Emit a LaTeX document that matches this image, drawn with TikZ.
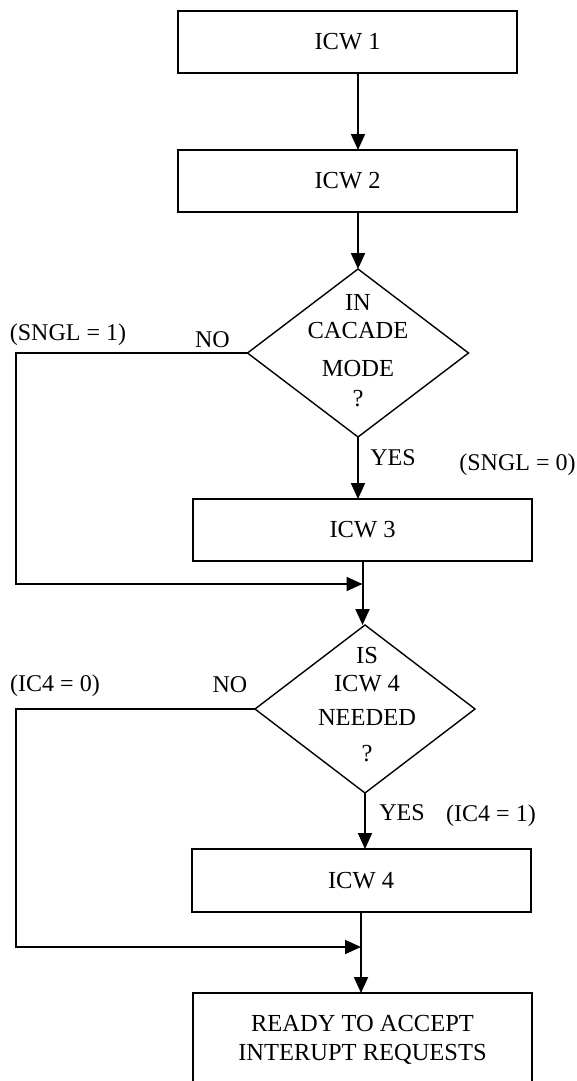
\documentclass[tikz,border=0pt]{standalone}
\usepackage{fontspec}
\setmainfont{Liberation Serif}
\usetikzlibrary{shapes.geometric, arrows.meta, positioning, calc}
\tikzset{
    process/.style={rectangle, draw, line width=2pt, minimum width=339pt, minimum height=62pt, inner sep=0pt, outer sep=0pt, align=center, font=\fontsize{24.5}{29}\selectfont},
    decision/.style={diamond, draw, line width=1.4pt, minimum width=221pt, minimum height=168pt, inner sep=0pt, outer sep=0pt},
    dtext/.style={align=center, inner sep=0pt, font=\fontsize{24.5}{28}\selectfont},
    note/.style={inner sep=0pt, text height=16pt, text depth=0pt, font=\fontsize{24}{28}\selectfont},
    link/.style={line width=2pt},
    arrow/.style={line width=2pt,-{Triangle[length=16pt,width=14pt]}}
}

\begin{document}
\begin{tikzpicture}[node distance=60pt]
    \useasboundingbox (0,0) rectangle (577pt,-1081pt);
    \clip (0,0) rectangle (577pt,-1081pt);
    \coordinate (rail) at (16pt,0);

    \node (icw1) [process] at (347.5pt,-42pt) {ICW 1};
    \node (icw2) [process, below=77pt of icw1] {ICW 2};
    \node (dec1) [decision, below=57pt of icw2, xshift=10.5pt] {};
    \node (dec1txt) [dtext, yshift=2pt] at (dec1) {IN\\CACADE\\[10pt]MODE\\[2pt]?};
    \node (icw3) [process, below=62pt of dec1, xshift=4.5pt] {ICW 3};
    \coordinate (join1) at ([yshift=-23pt]icw3.south);
    \node (dec2) [decision, minimum width=220pt, below=64pt of icw3, xshift=2.5pt] {};
    \node (dec2txt) [dtext, xshift=2pt, yshift=4pt] at (dec2) {IS\\ICW 4\\[6pt]NEEDED\\[8pt]?};
    \node (icw4) [process, minimum height=63pt, below=56pt of dec2, xshift=-4pt] {ICW 4};
    \coordinate (join2) at ([yshift=-35pt]icw4.south);
    \node (ready) [process, minimum height=94pt, below=81pt of icw4, xshift=1.5pt] {READY TO ACCEPT\\INTERUPT REQUESTS};

    % branch labels
    \node (no1) [note] at ([xshift=-35pt,yshift=14pt]dec1.west) {NO};
    \node (sngl1) [note] at ([xshift=-179.5pt,yshift=21pt]dec1.west) {(SNGL = 1)};
    \node (yes1) [note] at ([xshift=35pt,yshift=-20pt]dec1.south) {YES};
    \node (sngl0) [note] at ([xshift=159.5pt,yshift=-25pt]dec1.south) {(SNGL = 0)};
    \node (no2) [note] at ([xshift=-25pt,yshift=25pt]dec2.west) {NO};
    \node (ic4zero) [note] at ([xshift=-200pt,yshift=26pt]dec2.west) {(IC4 = 0)};
    \node (yes2) [note] at ([xshift=37pt,yshift=-19pt]dec2.south) {YES};
    \node (ic4one) [note] at ([xshift=126pt,yshift=-20pt]dec2.south) {(IC4 = 1)};

    \draw [arrow] (icw1.south -| dec1.north) -- (icw2.north -| dec1.north);
    \draw [arrow] (icw2.south -| dec1.north) -- (dec1.north);
    \draw [arrow] (dec1.south) -- (dec1.south |- icw3.north);
    \draw [link] (icw3.south) -- (join1);
    \draw [arrow] (dec1.west) -- (dec1.west -| rail) |- (join1);
    \draw [arrow] (join1) -- (join1 |- dec2.north);
    \draw [arrow] (dec2.south) -- (dec2.south |- icw4.north);
    \draw [link] (icw4.south) -- (join2);
    \draw [arrow] (dec2.west) -- (dec2.west -| rail) |- (join2);
    \draw [arrow] (join2) -- (join2 |- ready.north);
\end{tikzpicture}
\end{document}
